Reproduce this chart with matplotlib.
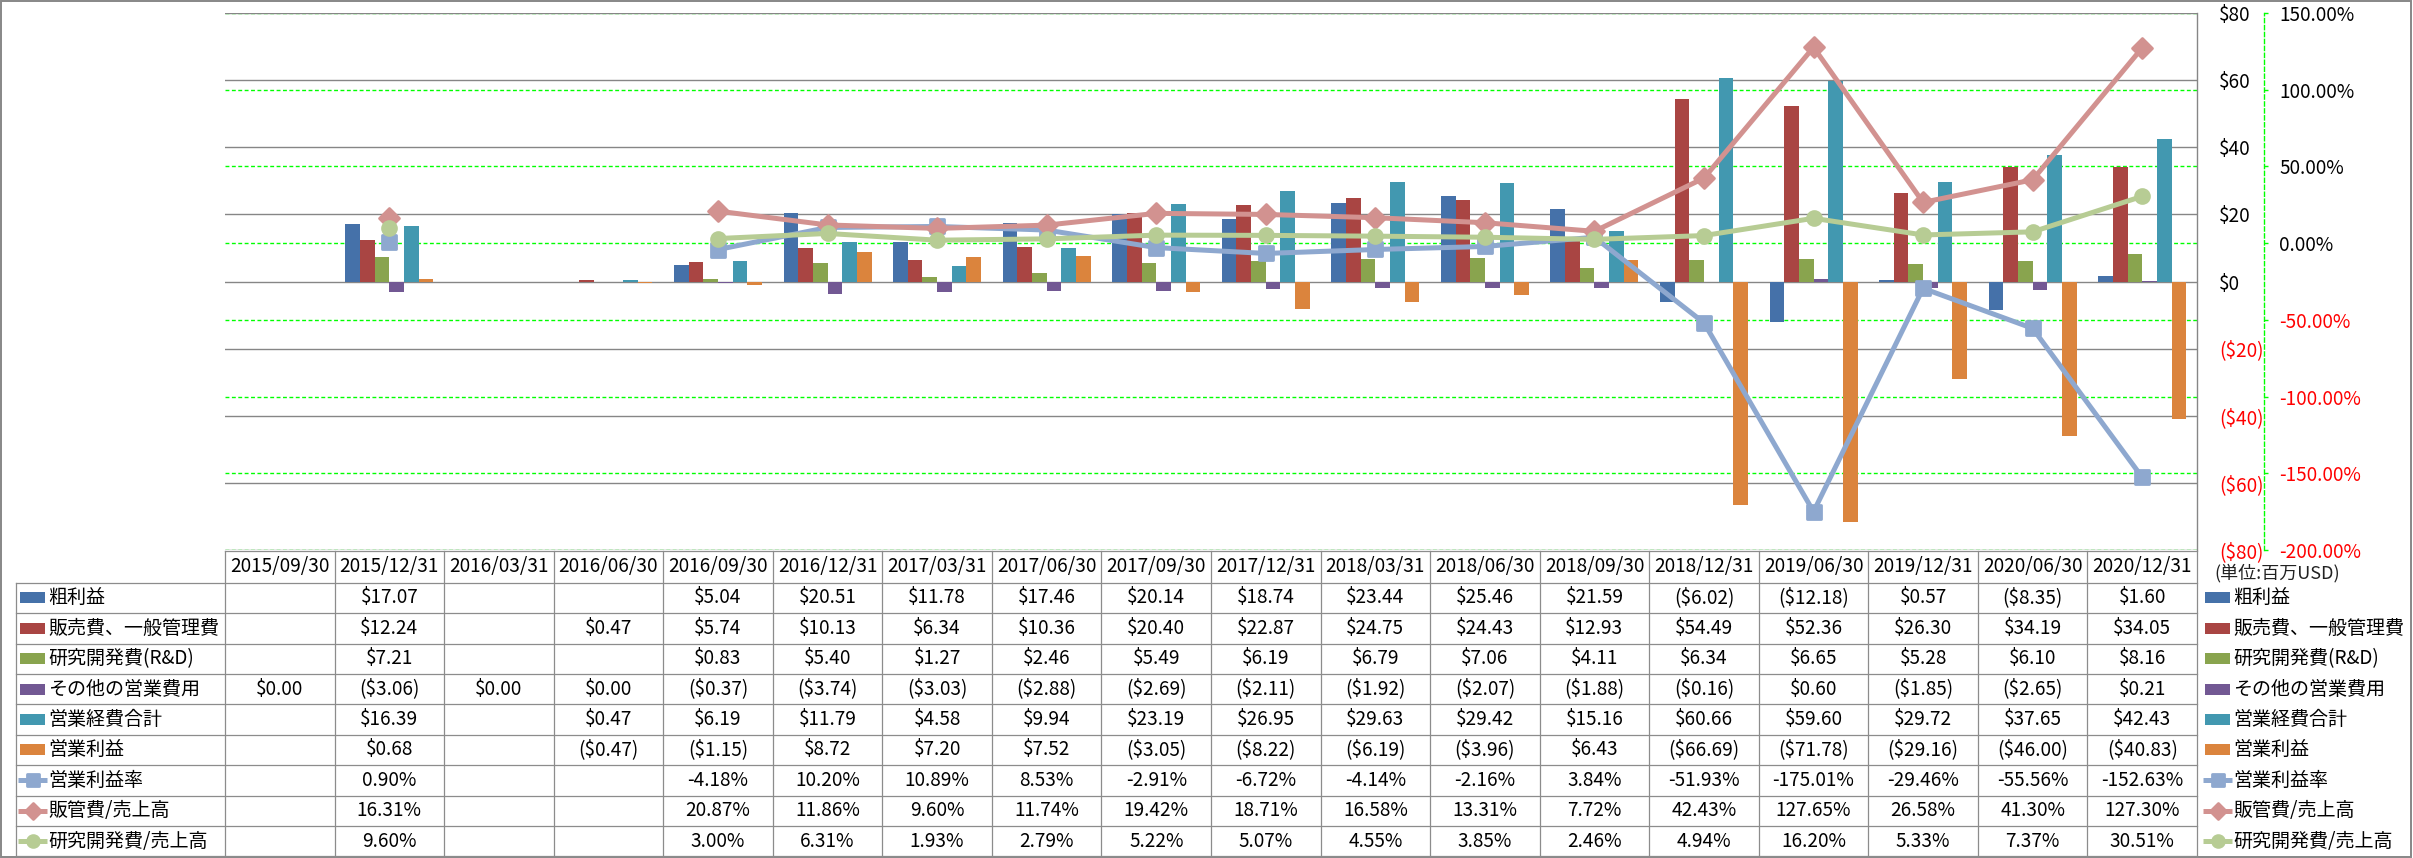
import numpy as np
import matplotlib
matplotlib.use("Agg")
import matplotlib.pyplot as plt
from matplotlib.markers import MarkerStyle
from matplotlib.patches import Rectangle
import matplotlib.transforms as mtransforms

plt.rcParams['font.family'] = ['Noto Sans CJK JP', 'DejaVu Sans']

# ---------------- data ----------------
categories = ["2015/09/30", "2015/12/31", "2016/03/31", "2016/06/30", "2016/09/30",
              "2016/12/31", "2017/03/31", "2017/06/30", "2017/09/30", "2017/12/31",
              "2018/03/31", "2018/06/30", "2018/09/30", "2018/12/31", "2019/06/30",
              "2019/12/31", "2020/06/30", "2020/12/31"]

gross_profit = [None, 17.07, None, None, 5.04, 20.51, 11.78, 17.46, 20.14, 18.74,
                23.44, 25.46, 21.59, -6.02, -12.18, 0.57, -8.35, 1.60]
sga = [None, 12.24, None, 0.47, 5.74, 10.13, 6.34, 10.36, 20.40, 22.87,
       24.75, 24.43, 12.93, 54.49, 52.36, 26.30, 34.19, 34.05]
rnd = [None, 7.21, None, None, 0.83, 5.40, 1.27, 2.46, 5.49, 6.19,
       6.79, 7.06, 4.11, 6.34, 6.65, 5.28, 6.10, 8.16]
other_opex = [0.00, -3.06, 0.00, 0.00, -0.37, -3.74, -3.03, -2.88, -2.69, -2.11,
              -1.92, -2.07, -1.88, -0.16, 0.60, -1.85, -2.65, 0.21]
total_opex = [None, 16.39, None, 0.47, 6.19, 11.79, 4.58, 9.94, 23.19, 26.95,
              29.63, 29.42, 15.16, 60.66, 59.60, 29.72, 37.65, 42.43]
op_income = [None, 0.68, None, -0.47, -1.15, 8.72, 7.20, 7.52, -3.05, -8.22,
             -6.19, -3.96, 6.43, -66.69, -71.78, -29.16, -46.00, -40.83]
op_margin = [None, 0.90, None, None, -4.18, 10.20, 10.89, 8.53, -2.91, -6.72,
             -4.14, -2.16, 3.84, -51.93, -175.01, -29.46, -55.56, -152.63]
sga_ratio = [None, 16.31, None, None, 20.87, 11.86, 9.60, 11.74, 19.42, 18.71,
             16.58, 13.31, 7.72, 42.43, 127.65, 26.58, 41.30, 127.30]
rnd_ratio = [None, 9.60, None, None, 3.00, 6.31, 1.93, 2.79, 5.22, 5.07,
             4.55, 3.85, 2.46, 4.94, 16.20, 5.33, 7.37, 30.51]

bar_names = ["粗利益", "販売費、一般管理費", "研究開発費(R&D)", "その他の営業費用", "営業経費合計", "営業利益"]
line_names = ["営業利益率", "販管費/売上高", "研究開発費/売上高"]

usd_ticks = [80, 60, 40, 20, 0, -20, -40, -60, -80]
pct_ticks = [150, 100, 50, 0, -50, -100, -150, -200]

# ---------------- styles ----------------
bar_colors = ["#4571A9", "#A94543", "#89A44E", "#725893", "#4298B0", "#DB843D"]
line_colors = ["#8EA8CF", "#D29290", "#B7CC94"]
line_markers = ["s", "D", "o"]
line_ms = [9.5, 10, 10]
grid_gray = "#868686"
table_gray = "#8C8C8C"
neg_red = "#FF0000"


def arr(v):
    return np.array([np.nan if a is None else a for a in v], dtype=float)


def fmt_usd(v):
    if v is None:
        return ""
    if v < 0:
        return f"(${-v:.2f})"
    return f"${v:.2f}"


def fmt_pct(v):
    if v is None:
        return ""
    return f"{v:.2f}%"


W, H = 2413, 858
PL, PR, PT, PB = 225, 2197, 13, 550
FS = 13.7


def rect(l, t, r, b):
    return [l / W, 1 - b / H, (r - l) / W, (b - t) / H]


fig = plt.figure(figsize=(W / 100, H / 100), dpi=100)

# overlay axes in pixel coordinates (table, legend, border)
ax_ov = fig.add_axes([0, 0, 1, 1])
ax_ov.set_xlim(0, W)
ax_ov.set_ylim(H, 0)
ax_ov.axis("off")
ax_ov.set_zorder(0)

# green percentage gridlines (behind bars)
ax_g = fig.add_axes(rect(PL, PT, PR, PB))
ax_g.set_zorder(1)
ax_g.patch.set_visible(False)
ax_g.set_xlim(-0.5, len(categories) - 0.5)
ax_g.set_ylim(-200, 150)
ax_g.set_yticks(pct_ticks)
ax_g.tick_params(left=False, bottom=False, labelleft=False, labelbottom=False)
ax_g.set_xticks([])
for s in ax_g.spines.values():
    s.set_visible(False)
ax_g.grid(axis="y", color="#00FF00", lw=1.0, dashes=(2.8, 1.8))

# main $ axes (bars)
ax = fig.add_axes(rect(PL, PT, PR, PB))
ax.set_zorder(2)
ax.patch.set_visible(False)
x = np.arange(len(categories))
w = 0.134
bar_data = [gross_profit, sga, rnd, other_opex, total_opex, op_income]
for i, (vals, c) in enumerate(zip(bar_data, bar_colors)):
    ax.bar(x + (i - 2.5) * w, arr(vals), width=w, color=c, linewidth=0, zorder=2)
ax.set_xlim(-0.5, len(categories) - 0.5)
ax.set_ylim(-80, 80)
ax.set_xticks([])
ax.grid(axis="y", color=grid_gray, lw=1.0)
ax.set_axisbelow(True)

# secondary % axes (lines)
ax2 = ax.twinx()
ax2.set_zorder(3)
ax2.patch.set_visible(False)

# $ axis labels on the right (after twinx, which moves them left)
ax.set_yticks(usd_ticks, [("($%d)" % -t) if t < 0 else ("$%d" % t) for t in usd_ticks])
ax.yaxis.tick_right()
ax.tick_params(axis="y", which="both", left=False, right=False, labelleft=False,
               labelright=True, length=0, pad=22 * 0.72, labelsize=FS)
for t, tk in zip(usd_ticks, ax.yaxis.get_major_ticks()):
    col = neg_red if t < 0 else "black"
    tk.label1.set_color(col)
    tk.label2.set_color(col)
for k in ["top", "left", "bottom"]:
    ax.spines[k].set_visible(False)
ax.spines["right"].set_visible(True)
ax.spines["right"].set_color(grid_gray)
ax.spines["right"].set_linewidth(1.0)

ax2.set_ylim(-200, 150)
ax2.set_yticks(pct_ticks, [f"{t:.2f}%" for t in pct_ticks])
for k in ["top", "left", "bottom"]:
    ax2.spines[k].set_visible(False)
ax2.spines["right"].set_position(("outward", 67 * 0.72))
ax2.spines["right"].set_color("#00FF00")
ax2.spines["right"].set_linestyle((0, (3, 2)))
ax2.spines["right"].set_linewidth(1.0)
ax2.tick_params(axis="y", colors="#00FF00", length=3, width=1.0, pad=11 * 0.72,
                labelsize=FS)
for t, tk in zip(pct_ticks, ax2.yaxis.get_major_ticks()):
    col = neg_red if t < 0 else "black"
    tk.label1.set_color(col)
    tk.label2.set_color(col)

line_data = [op_margin, sga_ratio, rnd_ratio]
for vals, c, m, ms in zip(line_data, line_colors, line_markers, line_ms):
    ax2.plot(x, arr(vals), color=c, lw=3.6, solid_joinstyle="round", solid_capstyle="round",
             marker=MarkerStyle(m, joinstyle="round"), ms=ms, mfc=c, mec=c, mew=2.0)

# ---------------- table ----------------
colw = (PR - PL) / len(categories)
HT, HB = 551, 582.7
RH = 30.4
nrows = 9
LBL_L = 16
tx = mtransforms.blended_transform_factory(ax.transData, ax_ov.transData)

for k in range(len(categories) + 1):
    xb = PL + k * colw
    ax_ov.plot([xb, xb], [HT, H - 1], color=table_gray, lw=0.9)
ax_ov.plot([PL, PR], [HT, HT], color=table_gray, lw=0.9)
for k in range(nrows + 1):
    yb = HB + k * RH
    ax_ov.plot([LBL_L, PR], [yb, yb], color=table_gray, lw=0.9)
ax_ov.plot([LBL_L, LBL_L], [HB, H - 1], color=table_gray, lw=0.9)

for i, c in enumerate(categories):
    ax_ov.text(i, (HT + HB) / 2, c, transform=tx, ha="center", va="center", fontsize=FS)

rows_fmt = [(v, fmt_usd) for v in bar_data] + [(v, fmt_pct) for v in line_data]
for r, (vals, f) in enumerate(rows_fmt):
    yc = HB + (r + 0.5) * RH
    for i, v in enumerate(vals):
        s = f(v)
        if s:
            ax_ov.text(i, yc, s, transform=tx, ha="center", va="center", fontsize=FS)


def legend_key(xl, xr, yc, r):
    if r < 6:
        ax_ov.add_patch(Rectangle((xl + 2, yc - 5.5), (xr - xl) - 4, 11,
                                  color=bar_colors[r], lw=0))
    else:
        j = r - 6
        c = line_colors[j]
        ax_ov.plot([xl, xr], [yc, yc], color=c, lw=3.6, solid_capstyle="butt")
        ax_ov.plot([(xl + xr) / 2], [yc], linestyle="none",
                   marker=MarkerStyle(line_markers[j], joinstyle="round"),
                   ms=line_ms[j] * 0.85, mfc=c, mec=c, mew=2.0)


all_names = bar_names + line_names
for r, name in enumerate(all_names):
    yc = HB + (r + 0.5) * RH
    legend_key(18, 47, yc, r)
    ax_ov.text(48, yc, name, ha="left", va="center", fontsize=FS)
    legend_key(2203, 2232, yc, r)
    ax_ov.text(2233, yc, name, ha="left", va="center", fontsize=FS)

ax_ov.text(2214, 573, "(単位:百万USD)", ha="left", va="center", fontsize=13, color="#222222")

ax_ov.add_patch(Rectangle((1, 1), W - 3, H - 2.5, fill=False, edgecolor="#878787", lw=1.4,
                          clip_on=False))

fig.savefig("out.png", dpi=100)
